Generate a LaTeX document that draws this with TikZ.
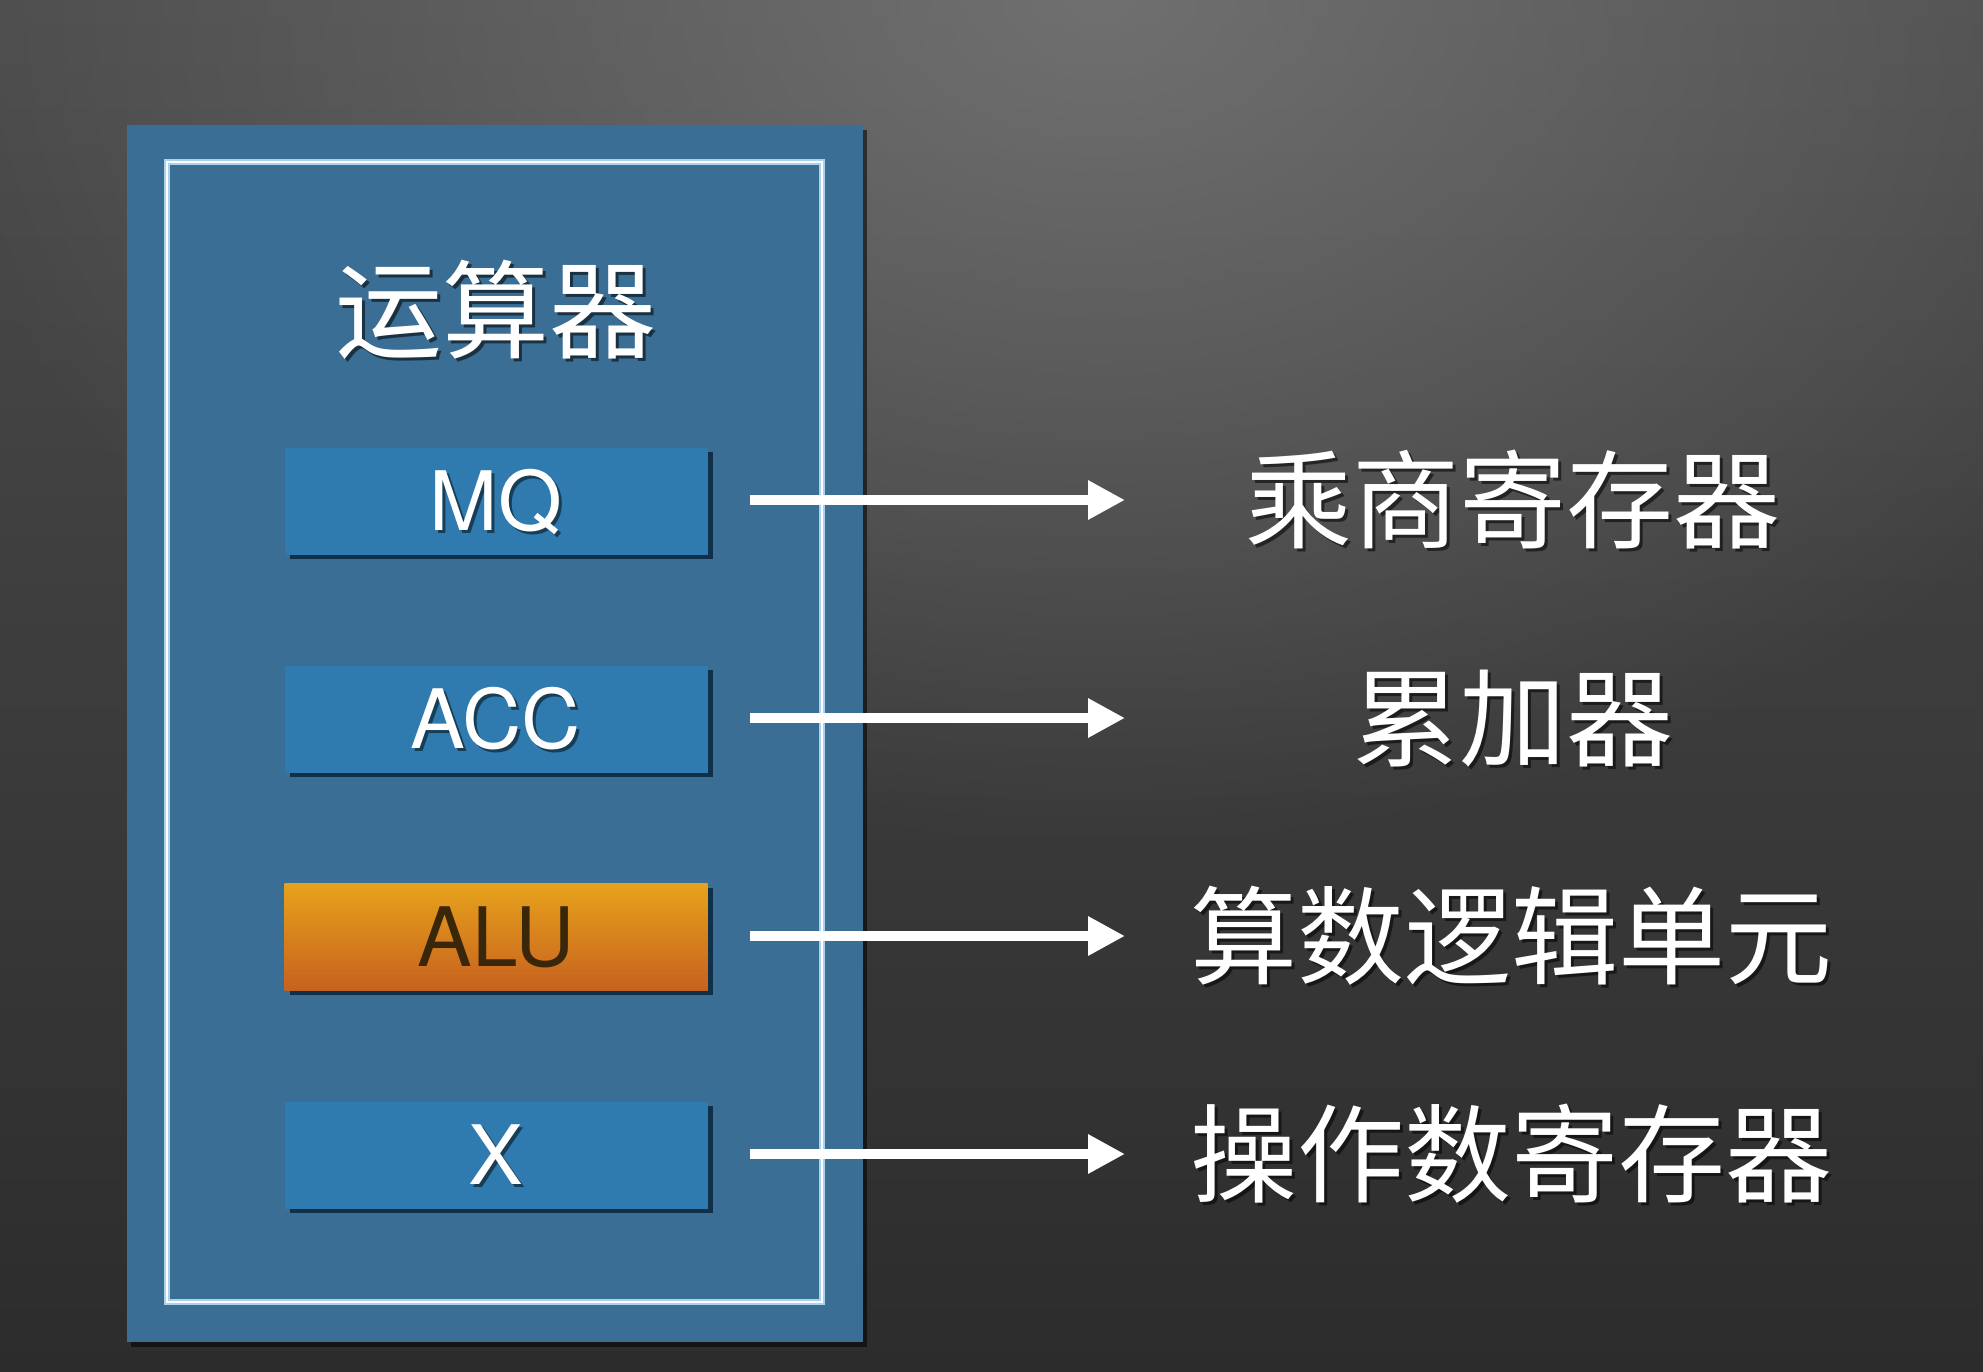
\documentclass[tikz,border=0pt]{standalone}
\usepackage{fontspec}
\setmainfont{Noto Sans CJK SC}
\newfontfamily\latinsans{TeX Gyre Heros}
\usetikzlibrary{arrows.meta,shadows,fadings}

\definecolor{bgtop}{HTML}{4C4C4C}
\definecolor{bgbot}{HTML}{2C2C2C}
\definecolor{bglight}{HTML}{7C7C7C}
\definecolor{unitblue}{HTML}{3A6E94}
\definecolor{regblue}{HTML}{2F7BAF}
\definecolor{regshadow}{HTML}{10304A}
\definecolor{framehalo}{HTML}{A9D2F0}
\definecolor{alutop}{HTML}{E7A21B}
\definecolor{alubot}{HTML}{C6611F}
\definecolor{alutext}{HTML}{3A2608}

% soft radial glow: opaque centre, transparent rim
\tikzfading[name=glowfade, inner color=transparent!0, outer color=transparent!100]

\begin{document}
\begin{tikzpicture}[x=0.5pt,y=-0.5pt,
  cjk/.style={text=white, inner sep=0pt, font=\fontsize{53.5}{60}\selectfont,
              text height=44.4pt, text depth=3.7pt},
  cjkshadow/.style={cjk, text=black, text opacity=0.55},
  regbox/.style={minimum width=211.5pt, minimum height=53.5pt, inner sep=0pt,
                 fill=regblue,
                 drop shadow={shadow xshift=2.5pt, shadow yshift=-2pt,
                              fill=regshadow, opacity=1}},
  alubox/.style={regbox, top color=alutop, bottom color=alubot},
  regtext/.style={inner sep=0pt, text=white,
                  font=\latinsans\fontsize{41}{45}\selectfont,
                  text height=29.5pt, text depth=0pt},
  regtextshadow/.style={regtext, text=black, text opacity=0.5},
  alutextstyle/.style={regtext, text=alutext},
  arr/.style={draw=white, line width=5pt,
              -{Triangle[length=18.5pt,width=18.5pt]}},
]
% frame of the slide
\useasboundingbox (0,0) rectangle (1983,1372);

% background: dark vertical gradient with a light spot near the top
\shade[top color=bgtop, bottom color=bgbot] (0,0) rectangle (1983,1372);
\begin{scope}
  \clip (0,0) rectangle (1983,1372);
  \fill[bglight, path fading=glowfade, opacity=0.75]
    (1100,0) ellipse (1200 and 850);
\end{scope}

% the arithmetic unit
\node[draw=none, fill=unitblue, inner sep=0pt, minimum width=368pt,
      minimum height=608.5pt,
      drop shadow={shadow xshift=2pt, shadow yshift=-2.5pt,
                   fill=black, opacity=0.55}]
  (unit) at (495,733.5) {};
\draw[framehalo, line width=2.6pt] (167,162) rectangle (822,1302);
\draw[white, line width=1.4pt] (167,162) rectangle (822,1302);

% title
\node[cjkshadow] (title-s) at ([shift={(1.5pt,-1.5pt)}]496,310) {运算器};
\node[cjk] (title) at (496,310) {运算器};

% registers
\node[regbox] (mq) at (496,501) {};
\node[regtextshadow] (mq-s) at ([shift={(1.5pt,-1.5pt)}]mq.center) {MQ};
\node[regtext] (mq-t) at (mq.center) {MQ};

\node[regbox] (acc) at (496,719) {};
\node[regtextshadow] (acc-s) at ([shift={(1.5pt,-1.5pt)}]acc.center) {ACC};
\node[regtext] (acc-t) at (acc.center) {ACC};

\node[alubox] (alu) at (496,937) {};
\node[alutextstyle] (alu-t) at (alu.center) {ALU};

\node[regbox] (xr) at (496,1155) {};
\node[regtextshadow] (xr-s) at ([shift={(1.5pt,-1.5pt)}]xr.center) {X};
\node[regtext] (xr-t) at (xr.center) {X};

% descriptions
\node[cjkshadow] (mq-ls) at ([shift={(1.5pt,-1.5pt)}]1513,500) {乘商寄存器};
\node[cjk] (mq-l) at (1513,500) {乘商寄存器};
\node[cjkshadow] (acc-ls) at ([shift={(1.5pt,-1.5pt)}]1513,718) {累加器};
\node[cjk] (acc-l) at (1513,718) {累加器};
\node[cjkshadow] (alu-ls) at ([shift={(1.5pt,-1.5pt)}]1511,936) {算数逻辑单元};
\node[cjk] (alu-l) at (1511,936) {算数逻辑单元};
\node[cjkshadow] (xr-ls) at ([shift={(1.5pt,-1.5pt)}]1511,1154) {操作数寄存器};
\node[cjk] (xr-l) at (1511,1154) {操作数寄存器};

% arrow tips
\coordinate (mq-tip) at (1125,500);
\coordinate (acc-tip) at (1125,718);
\coordinate (alu-tip) at (1125,936);
\coordinate (xr-tip) at (1125,1154);

\draw[arr, shorten <=21pt] (mq.east |- mq-tip) -- (mq-tip);
\draw[arr, shorten <=21pt] (acc.east |- acc-tip) -- (acc-tip);
\draw[arr, shorten <=21pt] (alu.east |- alu-tip) -- (alu-tip);
\draw[arr, shorten <=21pt] (xr.east |- xr-tip) -- (xr-tip);
\end{tikzpicture}
\end{document}
